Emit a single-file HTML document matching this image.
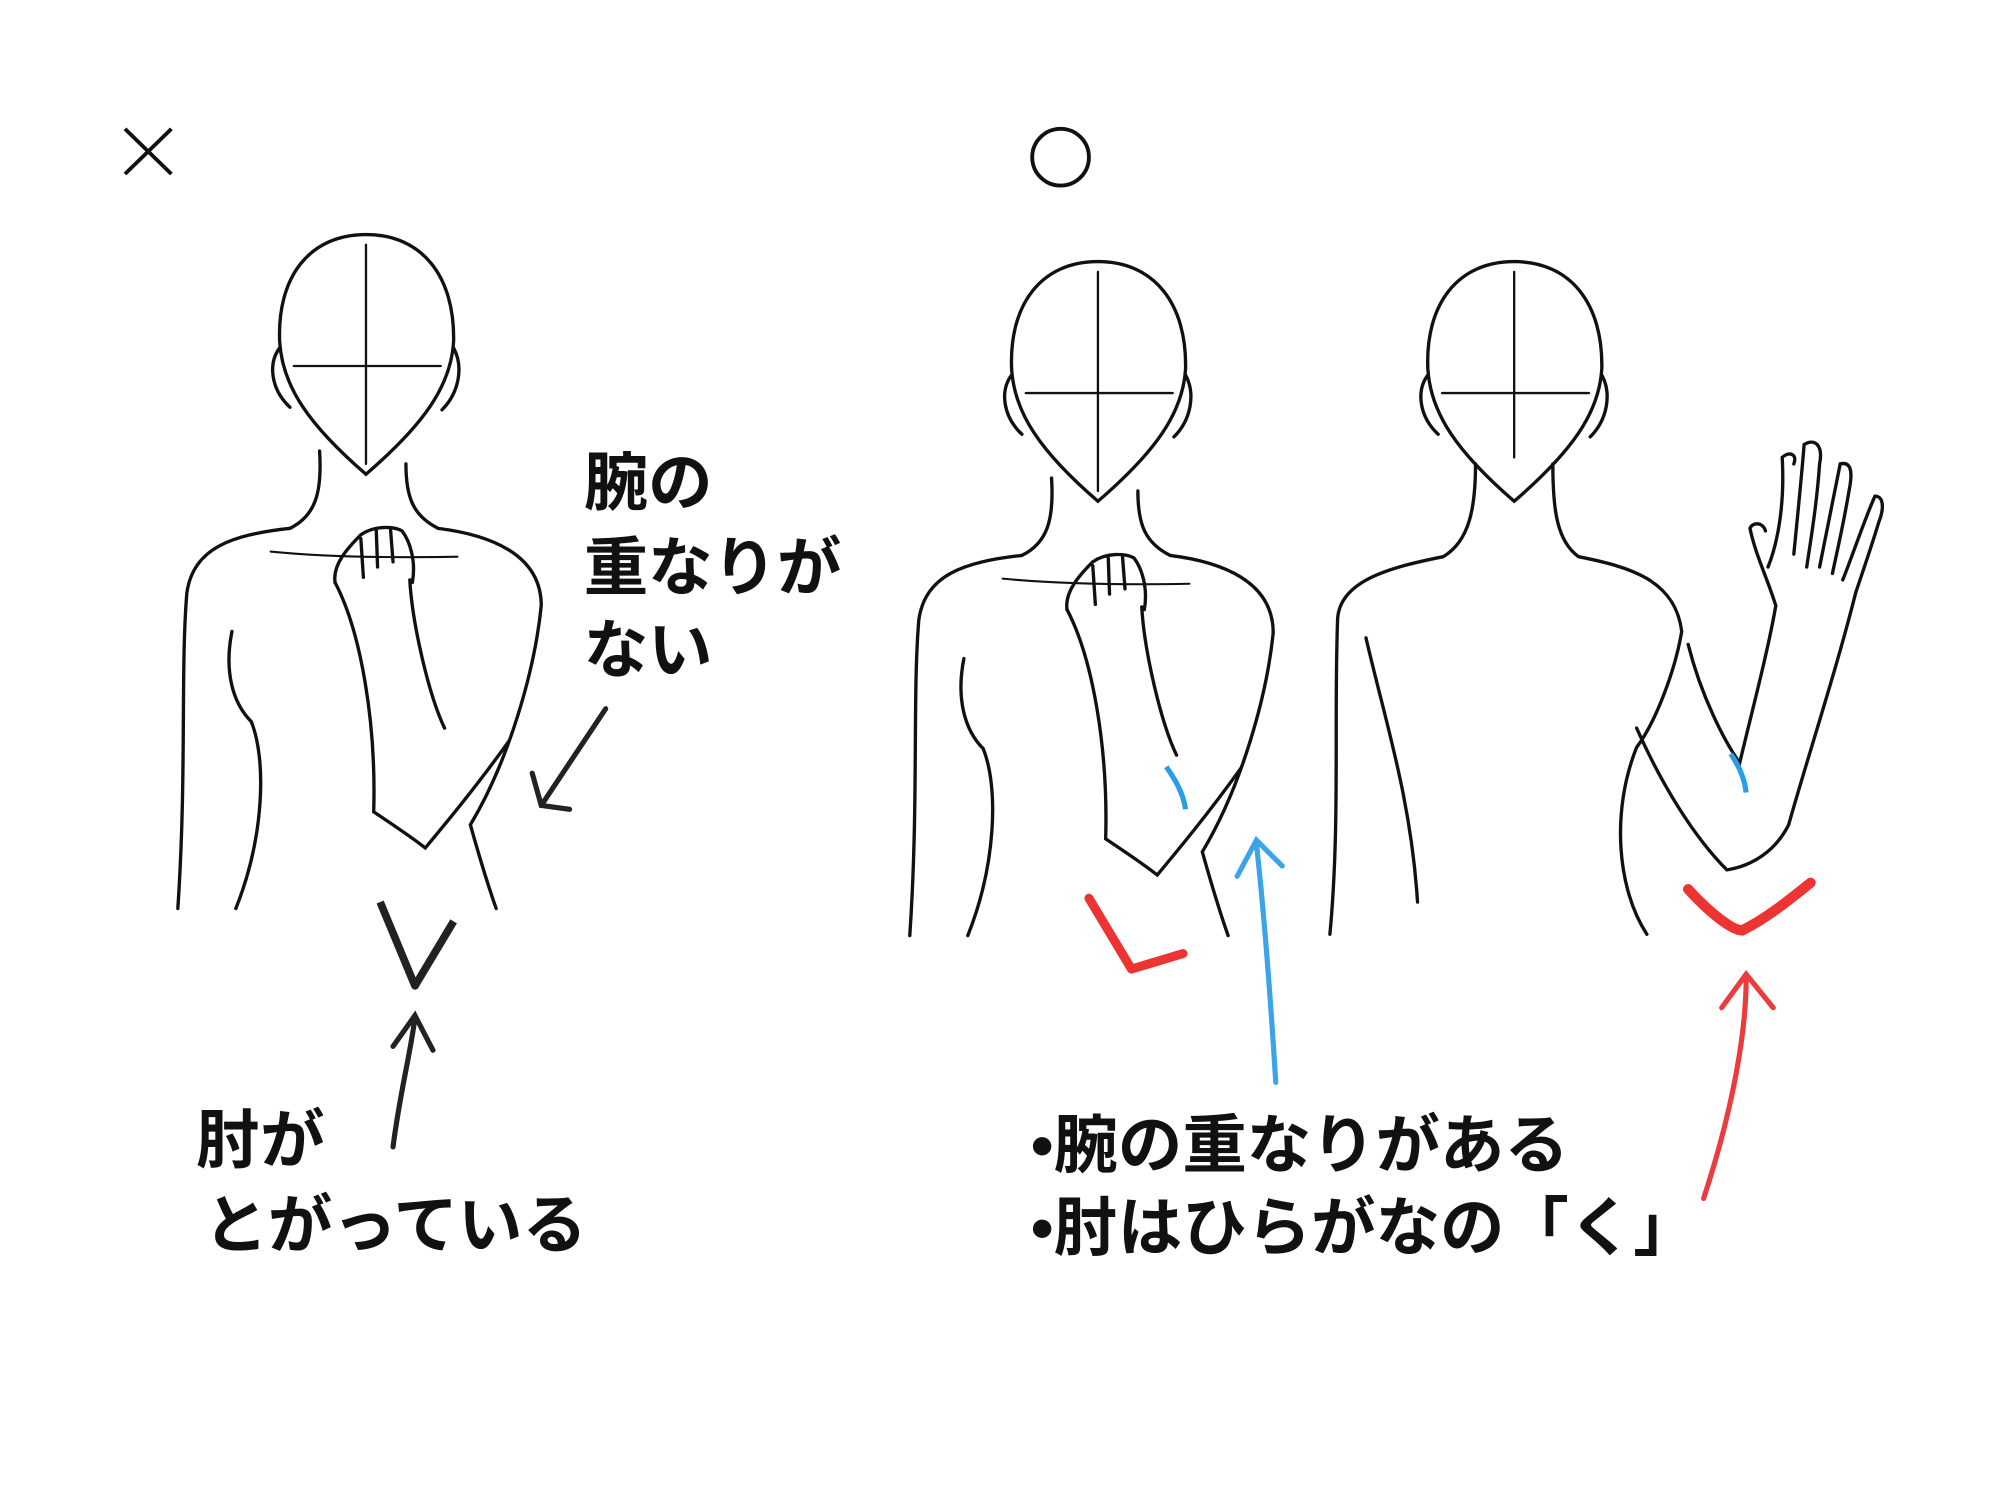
<!DOCTYPE html>
<html><head><meta charset="utf-8"><style>
html,body{margin:0;padding:0;background:#fff;width:2000px;height:1500px;overflow:hidden}
svg{display:block}
text{font-family:"Liberation Sans","Noto Sans CJK JP",sans-serif;font-weight:bold;fill:#111}
</style></head><body>
<svg width="2000" height="1500" viewBox="0 0 1552 1164" xmlns="http://www.w3.org/2000/svg">
<defs>
<g id="fig" fill="none" stroke="#111" stroke-width="2.6" stroke-linecap="round">
<path d="M284,182 C240,182 215,215 217,265 C219,300 240,330 284,368 C328,330 350,300 352,265 C353,215 328,182 284,182 Z"/>
<path d="M284,190 L284,360 M228,284 L342,284" stroke-width="1.8"/>
<path d="M217,270 C208,282 210,302 225,316 M352,270 C360,285 356,305 343,318"/>
<path d="M248,350 C250,382 245,400 225,410 M315,360 C315,385 320,400 340,410"/>
<path d="M225,410 C180,415 150,425 145,460 C140,520 145,600 138,705"/>
<path d="M340,410 C380,415 420,430 420,470 C415,520 395,590 365,640 C372,665 378,685 385,705"/>
<path d="M180,490 C174,520 180,545 195,560 C207,590 205,650 183,705"/>
<path d="M210,428 C250,432 300,433 355,432" stroke-width="1.6"/>
<path d="M260,452 C280,490 292,560 290,630 C305,640 320,650 330,658 C345,640 370,610 395,575"/>
<path d="M318,450 C320,485 333,540 345,565"/>
<path d="M260,452 C258,438 270,425 280,415 C290,408 305,408 312,412 C318,420 323,435 320,452 M280,418 L282,448 M292,412 L293,440 M303,410 L305,436"/>
</g>
</defs>
<rect width="1552" height="1164" fill="#fff"/>
<path d="M97,100 L133,135 M133,100 L97,135" stroke="#111" stroke-width="3"/>
<circle cx="823" cy="122" r="22" fill="none" stroke="#111" stroke-width="3"/>
<use href="#fig"/>
<use href="#fig" transform="translate(568,21)"/>
<g fill="none" stroke="#111" stroke-width="2.6" stroke-linecap="round">
<path d="M1175,203 C1131,203 1106,236 1108,286 C1110,321 1131,351 1175,389 C1219,351 1241,321 1243,286 C1244,236 1219,203 1175,203 Z"/>
<path d="M1175,211 L1175,355 M1119,305 L1233,305" stroke-width="1.8"/>
<path d="M1108,291 C1099,303 1101,323 1116,337 M1243,291 C1251,306 1247,326 1234,339"/>
<path d="M1145,360 C1145,395 1140,420 1120,432 C1080,440 1040,450 1038,480 C1035,560 1040,640 1032,725"/>
<path d="M1205,360 C1205,395 1208,420 1225,432 C1265,440 1300,450 1305,490 C1300,520 1285,560 1270,580 C1250,630 1255,690 1278,725"/>
<path d="M1060,495 C1075,560 1095,620 1100,700 M1270,565 C1290,610 1315,650 1340,675 C1360,672 1378,660 1388,640 C1402,590 1425,520 1440,460"/>
<path d="M1310,500 C1320,540 1338,575 1350,592 C1360,550 1372,505 1378,470"/>
<path d="M1378,470 C1372,450 1362,430 1358,410 M1372,440 C1380,420 1385,390 1383,355 M1392,430 C1395,400 1398,370 1400,345 C1408,340 1415,345 1412,360 C1410,390 1405,420 1402,440 M1412,440 C1418,410 1424,380 1428,360 C1436,358 1438,365 1435,380 C1430,410 1425,430 1422,445 M1430,450 C1438,430 1448,400 1455,385 C1462,385 1462,395 1458,405 C1452,425 1445,445 1440,460 M1358,410 C1360,405 1368,405 1370,412 M1383,355 C1388,350 1395,352 1392,360"/>
</g>
<path d="M905,595 C912,605 918,615 920,628 M1343,585 C1350,595 1354,605 1355,615" stroke="#2a9de8" stroke-width="4" fill="none"/>
<path d="M845,697 L878,752 L918,740" stroke="#e33" stroke-width="7" fill="none" stroke-linecap="round" stroke-linejoin="round"/>
<path d="M1310,690 C1328,710 1345,722 1352,722 C1372,712 1390,697 1405,685" stroke="#e33" stroke-width="8" fill="none" stroke-linecap="round"/>
<path d="M295,700 L322,765 L352,715" stroke="#222" stroke-width="6" fill="none" stroke-linejoin="round"/>
<g fill="none" stroke-width="4" stroke-linecap="round">
<path d="M470,550 L420,625 M413,600 L420,625 L442,628" stroke="#222"/>
<path d="M305,890 C310,850 318,820 322,790 M305,812 L322,788 L336,815" stroke="#222"/>
<path d="M990,840 C985,760 980,700 975,655 M960,680 L975,652 L995,672" stroke="#3aa3ea"/>
<path d="M1322,930 C1345,860 1355,800 1355,760 M1336,782 L1355,756 L1376,782" stroke="#ea3c3c"/>
</g>
<g font-size="50">
<text x="453" y="392">腕の</text>
<text x="453" y="458">重なりが</text>
<text x="453" y="522">ない</text>
<text x="152" y="902">肘が</text>
<text x="158" y="968">とがっている</text>
<text x="800" y="906">•腕の重なりがある</text>
<text x="800" y="970">•肘はひらがなの「く」</text>
</g>
</svg>
</body></html>
